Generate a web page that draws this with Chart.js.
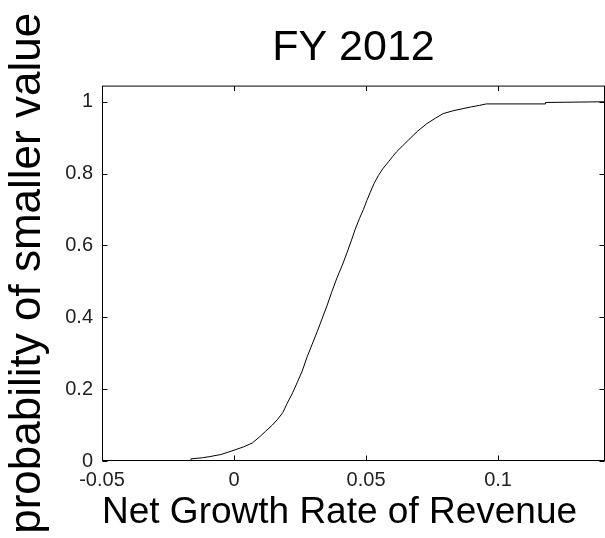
<!DOCTYPE html>
<html>
<head>
<meta charset="utf-8">
<script src="https://cdn.jsdelivr.net/npm/chart.js@4"></script>
<style>
  html, body { margin: 0; padding: 0; background: #fff; }
  #wrap { width: 605px; height: 538px; }
</style>
</head>
<body>
<div id="wrap"><canvas id="cdfChart" width="605" height="538"></canvas></div>
<script>
const growthRate = [-0.05, -0.0165, -0.0163, -0.012, -0.0094, -0.005, 0, 0.0035, 0.0069, 0.0095,
  0.012, 0.0145, 0.0164, 0.0185, 0.0201, 0.0222, 0.0239, 0.0258, 0.0277, 0.0296,
  0.0315, 0.0333, 0.0352, 0.037, 0.039, 0.041, 0.0428, 0.0445, 0.0459, 0.0475,
  0.049, 0.0503, 0.0516, 0.053, 0.0547, 0.0565, 0.0585, 0.06, 0.0616, 0.0638,
  0.066, 0.0695, 0.073, 0.0762, 0.0792, 0.083, 0.0868, 0.09, 0.093, 0.0956,
  0.118, 0.118, 0.1405];
const probability = [0, 0, 0.006, 0.009, 0.012, 0.018, 0.03, 0.039, 0.05, 0.066,
  0.083, 0.1, 0.115, 0.135, 0.16, 0.19, 0.218, 0.25, 0.29, 0.325,
  0.36, 0.395, 0.432, 0.47, 0.51, 0.545, 0.58, 0.615, 0.645, 0.675,
  0.7, 0.725, 0.748, 0.772, 0.795, 0.815, 0.833, 0.847, 0.861, 0.877,
  0.893, 0.918, 0.939, 0.954, 0.967, 0.975, 0.981, 0.986, 0.99, 0.994,
  0.994, 0.998, 1.0];

const xTicks = [-0.05, 0, 0.05, 0.1];
const yTicks = [0, 0.2, 0.4, 0.6, 0.8, 1];
const xRange = [-0.05, 0.1405];
const yRange = [0, 1.045];

const points = growthRate.map((x, i) => ({ x: x, y: probability[i] }));

// matlab style box with ticks pointing inward
const boxPlugin = {
    id: 'box',
    afterDraw(chart) {
        const { ctx, chartArea: a, scales } = chart;
        const L = a.left + 0.5, R = a.right - 0.5, T = a.top + 0.5, B = a.bottom - 0.5;
        ctx.save();
        ctx.strokeStyle = '#000';
        ctx.lineWidth = 1;
        ctx.strokeRect(L, T, R - L, B - T);
        ctx.beginPath();
        xTicks.forEach(v => {
            const px = Math.round(scales.x.getPixelForValue(v)) + 0.5;
            ctx.moveTo(px, B); ctx.lineTo(px, B - 5);
            ctx.moveTo(px, T); ctx.lineTo(px, T + 5);
        });
        yTicks.forEach(v => {
            const py = Math.round(scales.y.getPixelForValue(v)) + 0.5;
            ctx.moveTo(L, py); ctx.lineTo(L + 5, py);
            ctx.moveTo(R, py); ctx.lineTo(R - 5, py);
        });
        ctx.stroke();
        ctx.restore();
    }
};

const tickFont = { family: 'Liberation Sans, Arial, sans-serif', size: 20 };

new Chart(document.getElementById('cdfChart').getContext('2d'), {
    type: 'line',
    data: {
        datasets: [{
            data: points,
            borderColor: '#000',
            borderWidth: 1,
            pointRadius: 0,
            tension: 0,
            fill: false
        }]
    },
    options: {
        responsive: false,
        animation: false,
        layout: { padding: 0 },
        plugins: {
            legend: { display: false },
            tooltip: { enabled: false },
            title: {
                display: true,
                text: 'FY 2012',
                fullSize: false,
                color: '#000',
                font: { family: 'Liberation Sans, Arial, sans-serif', size: 43, weight: 'normal', lineHeight: 1.2 },
                padding: { top: 22, bottom: 12 }
            }
        },
        scales: {
            x: {
                type: 'linear',
                min: xRange[0],
                max: xRange[1],
                afterBuildTicks: s => { s.ticks = xTicks.map(v => ({ value: v })); },
                afterFit: s => { s.height = 77; },
                grid: { display: false, drawTicks: false },
                border: { display: false },
                ticks: {
                    color: '#222',
                    font: tickFont,
                    padding: 7,
                    maxRotation: 0,
                    autoSkip: false,
                    callback: v => String(v)
                },
                title: {
                    display: true,
                    text: 'Net Growth Rate of Revenue',
                    align: 'start',
                    color: '#000',
                    font: { family: 'Liberation Sans, Arial, sans-serif', size: 37, lineHeight: 1.2 },
                    padding: { top: 0, bottom: 3 }
                }
            },
            y: {
                type: 'linear',
                min: yRange[0],
                max: yRange[1],
                afterBuildTicks: s => { s.ticks = yTicks.map(v => ({ value: v })); },
                afterFit: s => { s.width = 102; },
                grid: { display: false, drawTicks: false },
                border: { display: false },
                ticks: {
                    color: '#222',
                    font: tickFont,
                    padding: 9,
                    autoSkip: false,
                    callback: v => String(v)
                },
                title: {
                    display: true,
                    text: 'probability of smaller value',
                    color: '#000',
                    font: { family: 'Liberation Sans, Arial, sans-serif', size: 44, lineHeight: 1.2 },
                    padding: { top: 1, bottom: 0 }
                }
            }
        }
    },
    plugins: [boxPlugin]
});
</script>
</body>
</html>
